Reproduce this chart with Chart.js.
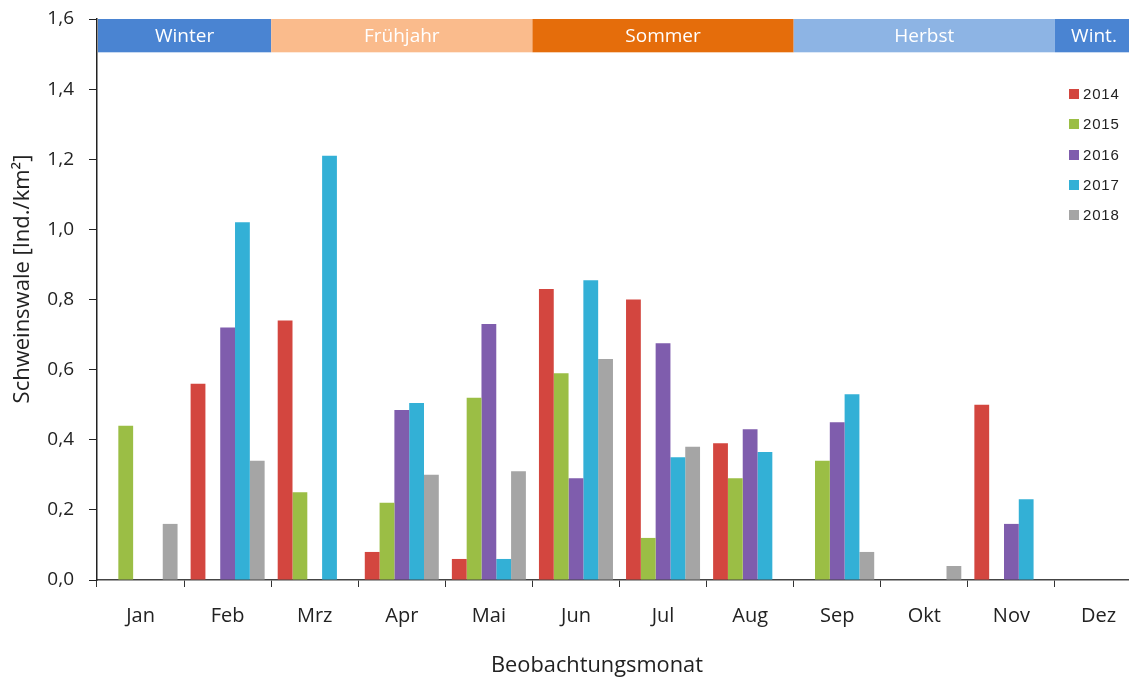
<!DOCTYPE html>
<html>
<head>
<meta charset="utf-8">
<script src="https://cdn.jsdelivr.net/npm/chart.js@4"></script>
<style>
    body { margin: 0; overflow: hidden; background: #fff; }
    .wrap { position: relative; width: 1145px; height: 679px; }
    .legend { position: absolute; left: 1069px; top: 85px; font-family: "Liberation Sans", Arial, sans-serif; font-size: 15px; color: #222; }
    .legend div { height: 30.3px; display: flex; align-items: flex-start; letter-spacing: 0.8px; }
    .legend span.box { display: inline-block; width: 10px; height: 10px; margin: 4px 4px 0 0; }
</style>
</head>
<body>
<div class="wrap">
    <canvas id="chart" width="1145" height="679"></canvas>
    <div class="legend" id="legend"></div>
</div>
<script>
// Monate
const months = ['Jan', 'Feb', 'Mrz', 'Apr', 'Mai', 'Jun', 'Jul', 'Aug', 'Sep', 'Okt', 'Nov', 'Dez'];

// Dichte je Jahr (Ind./km²)
const years = ['2014', '2015', '2016', '2017', '2018'];
const v2014 = [0, 0.56, 0.74, 0.08, 0.06, 0.83, 0.80, 0.39, 0, 0, 0.50, 0];
const v2015 = [0.44, 0, 0.25, 0.22, 0.52, 0.59, 0.12, 0.29, 0.34, 0, 0, 0];
const v2016 = [0, 0.72, 0, 0.485, 0.73, 0.29, 0.675, 0.43, 0.45, 0, 0.16, 0];
const v2017 = [0, 1.02, 1.21, 0.505, 0.06, 0.855, 0.35, 0.365, 0.53, 0, 0.23, 0];
const v2018 = [0.16, 0.34, 0, 0.30, 0.31, 0.63, 0.38, 0, 0.08, 0.04, 0, 0];
const colors = ['#d3463f', '#9bbe45', '#7f5dad', '#33b0d6', '#a5a5a5'];

// Jahreszeiten (Monatsindex von - bis)
const seasons = ['Winter', 'Frühjahr', 'Sommer', 'Herbst', 'Wint.'];
const seasonFrom = [0, 2, 5, 8, 11];
const seasonTo = [2, 5, 8, 11, 12];
const seasonColors = ['#4a84d2', '#fabb8c', '#e56d0b', '#8db4e4', '#4a84d2'];

// y-Achse
const yMin = 0;
const yMax = 1.6;
const yStep = 0.2;

const font = '"Open Sans", "Noto Sans", sans-serif';
const yTitle = 'Schweinswale [Ind./km²]';
const xTitle = 'Beobachtungsmonat';

// Band mit den Jahreszeiten oben im Diagramm
const seasonBand = {
    id: 'seasonBand',
    afterDatasetsDraw(chart) {
        const { ctx, chartArea, scales } = chart;
        const w = (chartArea.right - chartArea.left) / months.length;
        const top = scales.y.getPixelForValue(1.6);
        const bottom = scales.y.getPixelForValue(1.505);
        ctx.save();
        seasons.forEach((name, i) => {
            const x0 = chartArea.left + seasonFrom[i] * w + (i === 0 ? 1 : 0);
            const x1 = chartArea.left + seasonTo[i] * w;
            ctx.fillStyle = seasonColors[i];
            ctx.fillRect(x0, top, x1 - x0, bottom - top);
            ctx.fillStyle = '#fff';
            ctx.font = '19px ' + font;
            ctx.textAlign = 'center';
            ctx.textBaseline = 'middle';
            let cx = (x0 + x1) / 2;
            if (i === seasons.length - 1) cx = Math.min(cx, 1129 - 35);
            ctx.fillText(name, cx, (top + bottom) / 2 + 1);
        });
        ctx.restore();
    }
};

// Achsentitel
const axisTitles = {
    id: 'axisTitles',
    afterDraw(chart) {
        const { ctx } = chart;
        ctx.save();
        ctx.fillStyle = '#222';
        ctx.textAlign = 'center';
        ctx.textBaseline = 'middle';
        ctx.font = '21.8px ' + font;
        ctx.fillText(xTitle, 597, 666);
        ctx.translate(23, 279);
        ctx.rotate(-Math.PI / 2);
        ctx.font = '22px ' + font;
        ctx.fillText(yTitle, 0, 0);
        ctx.restore();
    }
};

const datasets = [v2014, v2015, v2016, v2017, v2018].map((data, i) => ({
    label: years[i],
    data: data,
    backgroundColor: colors[i],
    categoryPercentage: 0.85,
    barPercentage: 1.0
}));

const chart = new Chart(document.getElementById('chart'), {
    type: 'bar',
    data: { labels: months, datasets: datasets },
    options: {
        responsive: false,
        animation: false,
        layout: { padding: { top: 19, right: 3, left: 0, bottom: 0 } },
        plugins: {
            legend: { display: false },
            tooltip: { enabled: false }
        },
        scales: {
            x: {
                afterFit(scale) { scale.height = 99; },
                border: { color: '#444', width: 1.5 },
                grid: { display: true, drawOnChartArea: false, drawTicks: true, tickLength: 7, color: '#333', offset: true },
                ticks: { color: '#222', font: { family: font, size: 20 }, padding: 17, maxRotation: 0 }
            },
            y: {
                min: yMin,
                max: yMax,
                afterFit(scale) {
                    scale.width = 97;
                    scale.paddingTop = 0;
                    scale.paddingBottom = 0;
                },
                border: { color: '#222', width: 1.5 },
                grid: { display: true, drawOnChartArea: false, drawTicks: true, tickLength: 8, color: '#222' },
                ticks: {
                    stepSize: yStep,
                    color: '#222',
                    padding: 15,
                    font: { family: font, size: 19 },
                    callback: (v) => v.toFixed(1).replace('.', ',')
                }
            }
        }
    },
    plugins: [seasonBand, axisTitles]
});

// Legende rechts oben
const legend = document.getElementById('legend');
years.forEach((y, i) => {
    const row = document.createElement('div');
    row.innerHTML = `<span class="box" style="background:${colors[i]}"></span>${y}`;
    legend.appendChild(row);
});
</script>
</body>
</html>
